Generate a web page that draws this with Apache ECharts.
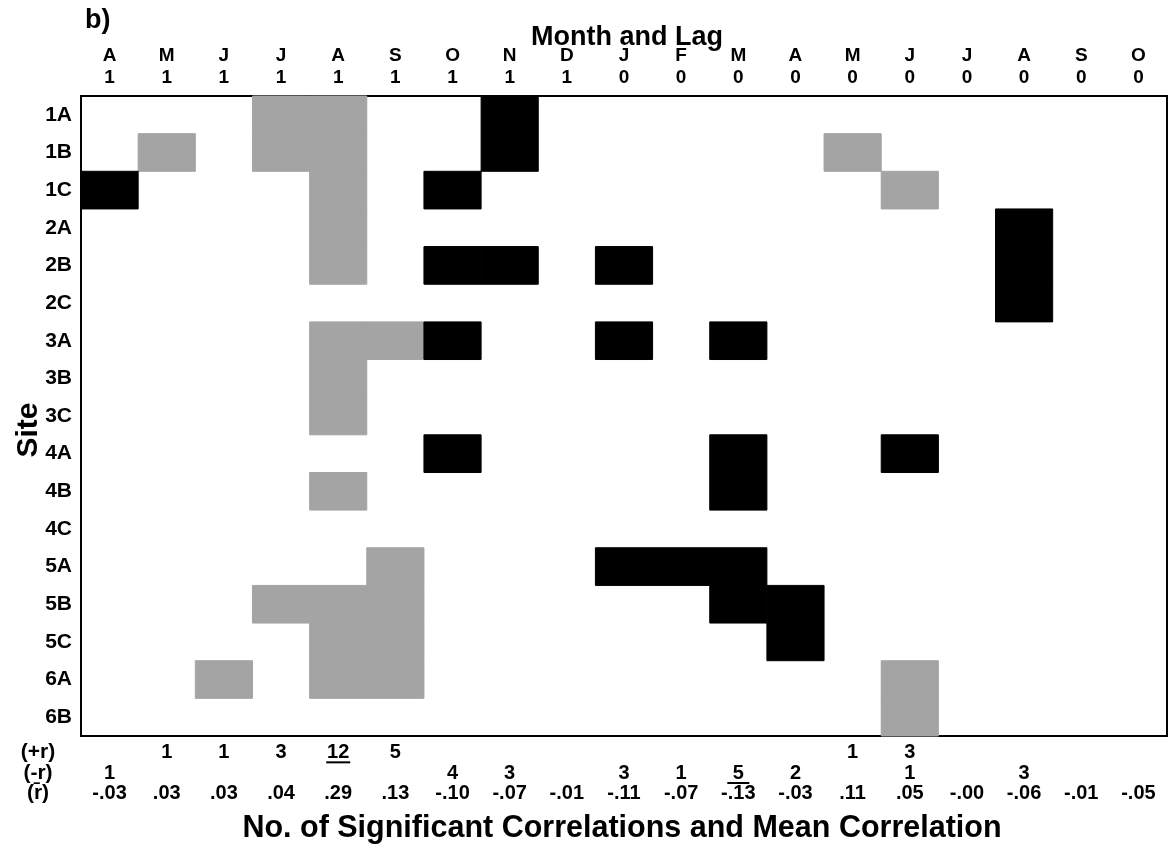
<!DOCTYPE html>
<html>
<head>
<meta charset="utf-8">
<title>Month and Lag</title>
<script src="https://cdn.jsdelivr.net/npm/echarts@6/dist/echarts.min.js"></script>
<style>
  html, body { margin: 0; padding: 0; background: #fff; }
  #chart { width: 1168px; height: 849px; }
</style>
</head>
<body>
<div id="chart"></div>
<script>
// Months (April of the previous year through October) and their lag
const months = ['A','M','J','J','A','S','O','N','D','J','F','M','A','M','J','J','A','S','O'];
const lags   = [1,1,1,1,1,1,1,1,1,0,0,0,0,0,0,0,0,0,0];

// Sampling sites, top to bottom
const sites = ['1A','1B','1C','2A','2B','2C','3A','3B','3C','4A','4B','4C','5A','5B','5C','6A','6B'];

// Month columns with a significant positive correlation, one list per site
const positiveCols = [
  [3, 4],          // 1A
  [1, 3, 4, 13],   // 1B
  [4, 14],         // 1C
  [4],             // 2A
  [4],             // 2B
  [],              // 2C
  [4, 5],          // 3A
  [4],             // 3B
  [4],             // 3C
  [],              // 4A
  [4],             // 4B
  [],              // 4C
  [5],             // 5A
  [3, 4, 5],       // 5B
  [4, 5],          // 5C
  [2, 4, 5, 14],   // 6A
  [14]             // 6B
];

// Month columns with a significant negative correlation, one list per site
const negativeCols = [
  [7],             // 1A
  [7],             // 1B
  [0, 6],          // 1C
  [16],            // 2A
  [6, 7, 9, 16],   // 2B
  [16],            // 2C
  [6, 9, 11],      // 3A
  [],              // 3B
  [],              // 3C
  [6, 11, 14],     // 4A
  [11],            // 4B
  [],              // 4C
  [9, 10, 11],     // 5A
  [11, 12],        // 5B
  [12],            // 5C
  [],              // 6A
  []               // 6B
];

// Mean correlation across sites for each month
const meanR = [-0.03, 0.03, 0.03, 0.04, 0.29, 0.13, -0.10, -0.07, -0.01, -0.11,
               -0.07, -0.13, -0.03, 0.11, 0.05, -0.00, -0.06, -0.01, -0.05];

const summaryRows = ['(+r)', '(-r)', '(r\u0304)'];

const FONT = '"Liberation Sans", Arial, Helvetica, sans-serif';
const GRAY = '#a4a4a4';

// Cell list: [column, site, sign]
const cells = [];
sites.forEach((s, r) => {
  positiveCols[r].forEach(c => cells.push([c, r, 1]));
  negativeCols[r].forEach(c => cells.push([c, r, -1]));
});

// Counts of significant correlations per month
const posCount = months.map(() => 0);
const negCount = months.map(() => 0);
cells.forEach(([c, , s]) => { if (s > 0) posCount[c]++; else negCount[c]++; });
const maxPos = Math.max(...posCount);
const maxNeg = Math.max(...negCount);

function fmtR(v) {
  const neg = v < 0 || Object.is(v, -0);
  return (neg ? '-' : '') + Math.abs(v).toFixed(2).replace(/^0/, '');
}

// Summary entries: [column, row, text, underline]
const summary = [];
months.forEach((m, c) => {
  if (posCount[c] > 0) summary.push([c, 0, String(posCount[c]), posCount[c] === maxPos ? 1 : 0]);
  if (negCount[c] > 0) summary.push([c, 1, String(negCount[c]), negCount[c] === maxNeg ? 1 : 0]);
  summary.push([c, 2, fmtR(meanR[c]), 0]);
});

const chart = echarts.init(document.getElementById('chart'), null, { renderer: 'canvas' });

chart.setOption({
  backgroundColor: '#fff',
  animation: false,
  textStyle: { fontFamily: FONT },
  title: [
    { text: 'Month and Lag', left: 622, top: 19, textAlign: 'center',
      textStyle: { fontFamily: FONT, fontWeight: 'bold', fontSize: 27, color: '#000' } },
    { text: 'No. of Significant Correlations and Mean Correlation', left: 617, top: 808, textAlign: 'center',
      textStyle: { fontFamily: FONT, fontWeight: 'bold', fontSize: 30.5, color: '#000' } },
    { text: 'b)', left: 80, top: 2,
      textStyle: { fontFamily: FONT, fontWeight: 'bold', fontSize: 27, color: '#000' } }
  ],
  graphic: [
    { type: 'text', x: 29, y: 430, rotation: Math.PI / 2,
      style: { text: 'Site', fill: '#000', font: 'bold 30px ' + FONT, textAlign: 'center', textVerticalAlign: 'middle' } }
  ],
  grid: [
    { left: 81, top: 96, right: 1, bottom: 113, show: true, backgroundColor: '#fff',
      borderColor: '#000', borderWidth: 2 },
    { left: 81, top: 742, right: 1, height: 62, show: false }
  ],
  xAxis: [
    { type: 'category', gridIndex: 0, data: months, position: 'top',
      axisLine: { show: false }, axisTick: { show: false }, splitLine: { show: false },
      axisLabel: { interval: 0, margin: 7, color: '#000', fontFamily: FONT, fontWeight: 'bold',
        fontSize: 19, lineHeight: 22, formatter: (v, i) => v + '\n' + lags[i] } },
    { type: 'category', gridIndex: 1, data: months, show: false }
  ],
  yAxis: [
    { type: 'category', gridIndex: 0, data: sites, inverse: true,
      axisLine: { show: false }, axisTick: { show: false }, splitLine: { show: false },
      axisLabel: { interval: 0, margin: 9, color: '#000', fontFamily: FONT, fontWeight: 'bold', fontSize: 21 } },
    { type: 'category', gridIndex: 1, data: summaryRows, inverse: true,
      axisLine: { show: false }, axisTick: { show: false }, splitLine: { show: false },
      axisLabel: { interval: 0, margin: 43, align: 'center', color: '#000', fontFamily: FONT,
        fontWeight: 'bold', fontSize: 21 } }
  ],
  series: [
    {
      type: 'custom',
      name: 'cells',
      xAxisIndex: 0, yAxisIndex: 0,
      data: cells,
      renderItem: (params, api) => {
        const c = api.coord([api.value(0), api.value(1)]);
        const sz = api.size([1, 1]);
        const color = api.value(2) > 0 ? GRAY : '#000';
        return {
          type: 'rect',
          shape: { x: c[0] - sz[0] / 2, y: c[1] - sz[1] / 2, width: sz[0], height: sz[1] },
          style: { fill: color, stroke: color, lineWidth: 1 }
        };
      }
    },
    {
      type: 'custom',
      name: 'summary',
      xAxisIndex: 1, yAxisIndex: 1,
      clip: false,
      data: summary,
      renderItem: (params, api) => {
        const item = summary[params.dataIndex];
        const c = api.coord([item[0], item[1]]);
        const children = [{
          type: 'text', x: c[0], y: c[1],
          style: { text: item[2], fill: '#000', font: 'bold 20px ' + FONT,
            textAlign: 'center', textVerticalAlign: 'middle' }
        }];
        if (item[3]) {
          const half = item[2].length > 1 ? 12 : 11;
          children.push({
            type: 'line',
            shape: { x1: c[0] - half, y1: c[1] + 10, x2: c[0] + half, y2: c[1] + 10 },
            style: { stroke: '#000', lineWidth: 2 }
          });
        }
        return { type: 'group', children };
      }
    }
  ]
});
</script>
</body>
</html>
